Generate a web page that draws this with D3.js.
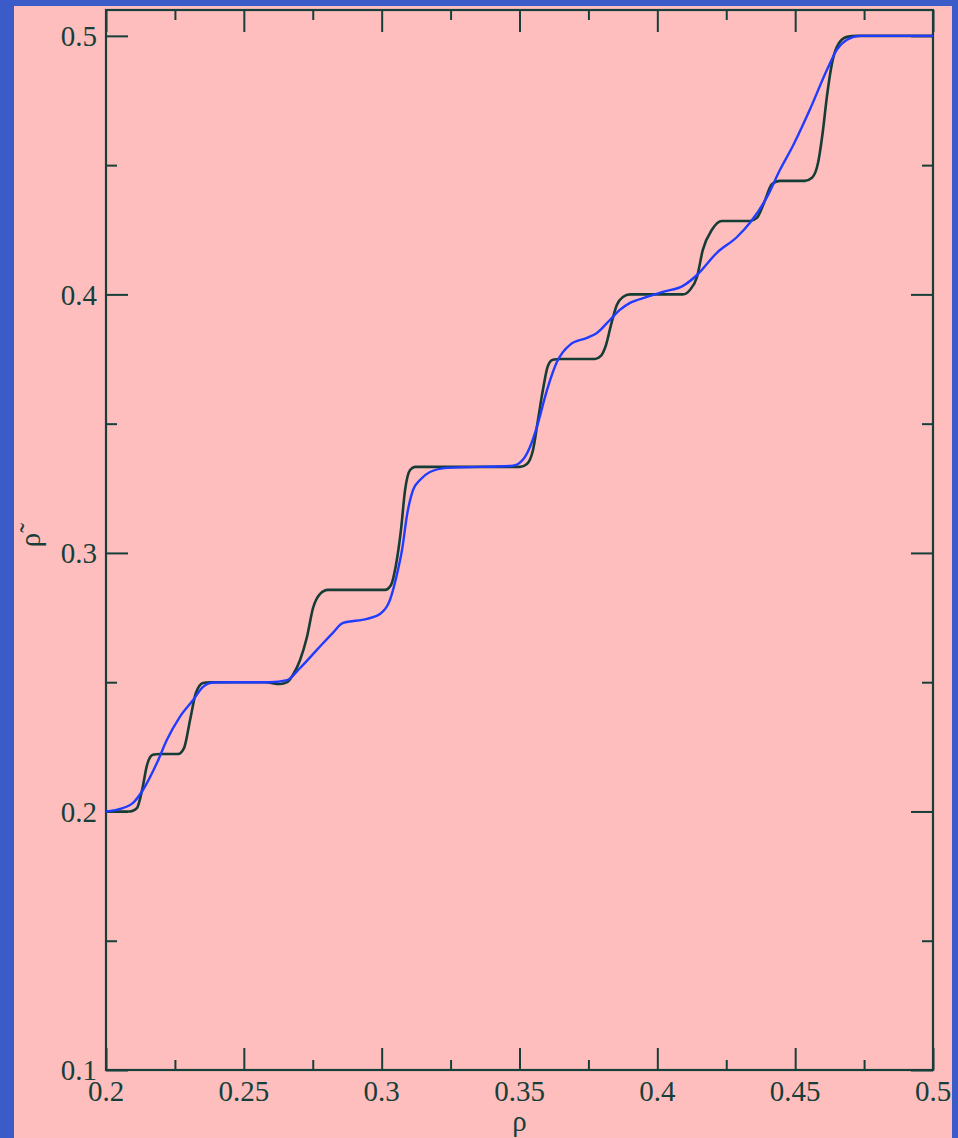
<!DOCTYPE html>
<html>
<head>
<meta charset="utf-8">
<script src="https://cdn.jsdelivr.net/npm/d3@7"></script>
<style>
html,body{margin:0;padding:0;background:#3b5cc8;}
svg{display:block;}
</style>
</head>
<body>
<svg id="chart" width="958" height="1138"></svg>
<script>
// Black curve (staircase)
const blackX = [0.2000,0.2087,0.2112,0.2131,0.2149,0.2170,0.2196,0.2261,0.2283,0.2305,0.2326,0.2352,0.2377,0.2577,0.2631,0.2657,0.2678,0.2704,0.2729,0.2751,0.2776,0.2805,0.3012,0.3034,0.3052,0.3070,0.3085,0.3103,0.3121,0.3502,0.3527,0.3549,0.3567,0.3585,0.3603,0.3621,0.3647,0.3774,0.3795,0.3814,0.3832,0.3853,0.3875,0.3901,0.4093,0.4118,0.4144,0.4165,0.4198,0.4234,0.4336,0.4361,0.4387,0.4416,0.4445,0.4535,0.4561,0.4583,0.4601,0.4615,0.4634,0.4655,0.4688,0.4724,0.5000];
const blackY = [0.2000,0.2000,0.2013,0.2083,0.2180,0.2219,0.2222,0.2222,0.2245,0.2354,0.2458,0.2497,0.2500,0.2500,0.2493,0.2500,0.2528,0.2586,0.2675,0.2787,0.2841,0.2857,0.2857,0.2876,0.2954,0.3089,0.3244,0.3321,0.3333,0.3333,0.3344,0.3398,0.3514,0.3631,0.3723,0.3747,0.3750,0.3750,0.3762,0.3805,0.3882,0.3959,0.3990,0.4000,0.4000,0.4017,0.4068,0.4172,0.4250,0.4284,0.4284,0.4296,0.4354,0.4427,0.4439,0.4439,0.4451,0.4509,0.4636,0.4764,0.4896,0.4965,0.4996,0.5000,0.5000];
// Blue curve (smooth)
const blueX = [0.2000,0.2051,0.2098,0.2134,0.2185,0.2221,0.2268,0.2316,0.2352,0.2390,0.2450,0.2595,0.2657,0.2704,0.2765,0.2823,0.2860,0.2947,0.2994,0.3030,0.3059,0.3074,0.3092,0.3114,0.3139,0.3175,0.3237,0.3476,0.3512,0.3538,0.3563,0.3600,0.3636,0.3683,0.3745,0.3781,0.3828,0.3864,0.3901,0.3962,0.4020,0.4093,0.4144,0.4216,0.4289,0.4336,0.4398,0.4445,0.4492,0.4553,0.4615,0.4651,0.4688,0.4735,0.5000];
const blueY = [0.2000,0.2010,0.2033,0.2083,0.2188,0.2277,0.2366,0.2431,0.2482,0.2499,0.2500,0.2500,0.2508,0.2555,0.2625,0.2691,0.2729,0.2745,0.2764,0.2818,0.2934,0.3012,0.3147,0.3244,0.3282,0.3313,0.3329,0.3337,0.3360,0.3410,0.3487,0.3631,0.3739,0.3805,0.3832,0.3851,0.3901,0.3940,0.3967,0.3990,0.4010,0.4033,0.4075,0.4161,0.4222,0.4277,0.4377,0.4482,0.4575,0.4714,0.4868,0.4946,0.4985,0.5000,0.5000];

const xMajor = [0.2,0.25,0.3,0.35,0.4,0.45,0.5];
const xMinor = [0.225,0.275,0.325,0.375,0.425,0.475];
const yMajor = [0.1,0.2,0.3,0.4,0.5];
const yMinor = [0.15,0.25,0.35,0.45];
const xTickLabels = ["0.2","0.25","0.3","0.35","0.4","0.45","0.5"];
const yTickLabels = ["0.1","0.2","0.3","0.4","0.5"];

const svg = d3.select("#chart");
const axisColor = "#163f39";
const L = 106, R = 933, T = 10, B = 1070;
const fontFam = "'Liberation Serif','DejaVu Serif',serif";

svg.append("rect").attr("x",14).attr("y",6).attr("width",938).attr("height",1132).attr("fill","#ffbebe");

const x = d3.scaleLinear().domain([0.2,0.5]).range([L,R]);
const y = d3.scaleLinear().domain([0.1,0.51]).range([B,T]);

const g = svg.append("g");

function drawAxis(axis, transform, tickVals, len) {
  const a = g.append("g").attr("transform", transform)
    .call(axis.tickValues(tickVals).tickSizeInner(len).tickSizeOuter(0).tickFormat(""));
  a.select(".domain").remove();
  a.selectAll(".tick line").attr("stroke", axisColor).attr("stroke-width", 2);
  return a;
}
drawAxis(d3.axisTop(x), `translate(0,${B})`, xMajor, 22);
drawAxis(d3.axisTop(x), `translate(0,${B})`, xMinor, 10);
drawAxis(d3.axisBottom(x), `translate(0,${T})`, xMajor, 22);
drawAxis(d3.axisBottom(x), `translate(0,${T})`, xMinor, 10);
drawAxis(d3.axisRight(y), `translate(${L},0)`, yMajor, 22);
drawAxis(d3.axisRight(y), `translate(${L},0)`, yMinor, 11);
drawAxis(d3.axisLeft(y), `translate(${R},0)`, yMajor, 22);
drawAxis(d3.axisLeft(y), `translate(${R},0)`, yMinor, 11);

g.selectAll(".xl").data(xMajor).enter().append("text")
  .attr("x", d=>x(d)).attr("y", 1101).attr("text-anchor","middle")
  .attr("fill", axisColor).style("font-family",fontFam).style("font-size","29px")
  .text((d,i)=>xTickLabels[i]);
g.selectAll(".yl").data(yMajor).enter().append("text")
  .attr("x", 97).attr("y", d=>y(d)).attr("dy","0.35em").attr("text-anchor","end")
  .attr("fill", axisColor).style("font-family",fontFam).style("font-size","29px")
  .text((d,i)=>yTickLabels[i]);

g.append("rect").attr("x",L).attr("y",T).attr("width",R-L).attr("height",B-T)
  .attr("fill","none").attr("stroke",axisColor).attr("stroke-width",2.2);

const line = d3.line().x(d=>x(d[0])).y(d=>y(d[1])).curve(d3.curveMonotoneX);
const blackData = blackX.map((v,i)=>[v, blackY[i]]);
const blueData = blueX.map((v,i)=>[v, blueY[i]]);
g.append("path").datum(blackData).attr("d", line).attr("fill","none")
  .attr("stroke","#163c36").attr("stroke-width",2.6);
g.append("path").datum(blueData).attr("d", line).attr("fill","none")
  .attr("stroke","#1f3cff").attr("stroke-width",2.4);

svg.append("text").attr("x", (L+R)/2).attr("y", 1131).attr("text-anchor","middle")
  .attr("fill", axisColor).style("font-family",fontFam).style("font-size","29px").text("ρ");
svg.append("text").attr("transform","translate(40,540) rotate(-90)").attr("text-anchor","middle")
  .attr("fill", axisColor).style("font-family",fontFam).style("font-size","29px").text("ρ\u0303");
</script>
</body>
</html>
